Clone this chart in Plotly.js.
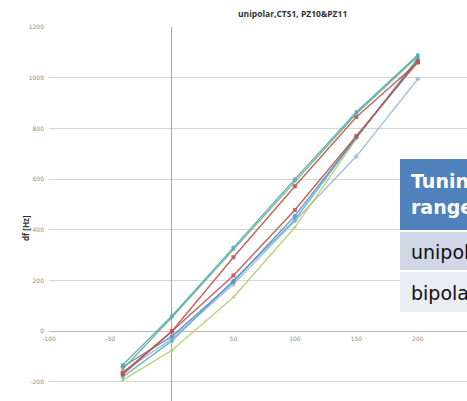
<!DOCTYPE html>
<html>
<head>
<meta charset="utf-8">
<script src="https://cdn.plot.ly/plotly-3.0.1.min.js"></script>
<style>html,body{margin:0;padding:0;background:#fff;}#chart{width:467px;height:401px;}</style>
</head>
<body>
<div id="chart"></div>
<script>
// Data
const xValues = [-40, 0, 50, 100, 150, 200];
const seriesA = [-133, 60, 330, 600, 865, 1090];
const seriesB = [-150, 55, 322, 592, 858, 1085];
const seriesC = [-165, 0, 292, 572, 845, 1060];
const seriesD = [-170, 0, 220, 478, 770, 1062];
const seriesE = [-140, -20, 195, 455, 765, 1070];
const seriesF = [-160, -30, 185, 435, 690, 995];
const seriesG = [-193, -75, 134, 410, 760, 1078];
const seriesH = [-180, -38, 200, 440, 765, 1075];
const xTickVals = [-100, -50, 50, 100, 150, 200];
const yTickVals = [-200, 0, 200, 400, 600, 800, 1000, 1200];
const tableRows = ["unipolar", "bipolar"];
const tableHeader = ["Tuning", "range"];

const seriesList = [
  {y: seriesF, color: '#9DB9DC', sym: 'diamond'},
  {y: seriesG, color: '#B8CB6A', sym: 'triangle-up'},
  {y: seriesH, color: '#5BB3C9', sym: 'circle'},
  {y: seriesE, color: '#5B8CC4', sym: 'diamond'},
  {y: seriesD, color: '#C0504D', sym: 'square'},
  {y: seriesC, color: '#C0504D', sym: 'square'},
  {y: seriesB, color: '#76AE7A', sym: 'triangle-up'},
  {y: seriesA, color: '#4BACC6', sym: 'circle'}
];

const traces = seriesList.map(s => ({
  x: xValues, y: s.y, type: 'scatter', mode: 'lines+markers',
  line: {color: s.color, width: 1.4},
  marker: {color: s.color, size: 4, symbol: s.sym},
  opacity: 0.9,
  showlegend: false, hoverinfo: 'skip'
}));

// pixel helpers for overlay placement
const L = 49, R = 467, T = 27, B = 401;
const px = v => (v - L) / (R - L);
const py = v => 1 - (v - T) / (B - T);

const shapes = [
  {type:'rect', xref:'paper', yref:'paper', x0:px(400), x1:px(480), y0:py(230), y1:py(159), fillcolor:'#4F81BD', line:{width:0}},
  {type:'rect', xref:'paper', yref:'paper', x0:px(400), x1:px(480), y0:py(270), y1:py(232), fillcolor:'#D0D8E8', line:{width:0}},
  {type:'rect', xref:'paper', yref:'paper', x0:px(400), x1:px(480), y0:py(312), y1:py(272), fillcolor:'#E9EDF4', line:{width:0}}
];

const tf = {family:'"DejaVu Sans", sans-serif', size:19};
const annotations = [
  {xref:'paper', yref:'paper', x:px(409), y:py(181), xanchor:'left', yanchor:'middle', showarrow:false, text:'<b>'+tableHeader[0]+'</b>', font:Object.assign({}, tf, {color:'#ffffff'})},
  {xref:'paper', yref:'paper', x:px(409), y:py(207), xanchor:'left', yanchor:'middle', showarrow:false, text:'<b>'+tableHeader[1]+'</b>', font:Object.assign({}, tf, {color:'#ffffff'})},
  {xref:'paper', yref:'paper', x:px(409), y:py(252), xanchor:'left', yanchor:'middle', showarrow:false, text:tableRows[0], font:Object.assign({}, tf, {color:'#111111'})},
  {xref:'paper', yref:'paper', x:px(409), y:py(293), xanchor:'left', yanchor:'middle', showarrow:false, text:tableRows[1], font:Object.assign({}, tf, {color:'#111111'})},
  {xref:'paper', yref:'paper', x:px(292), y:py(13), xanchor:'center', yanchor:'middle', showarrow:false, text:'<b>unipolar,CTS1, PZ10&amp;PZ11</b>', font:{family:'"Open Sans", sans-serif', size:8.5, color:'#333333'}},
  {xref:'paper', yref:'paper', x:px(25), y:py(228), xanchor:'center', yanchor:'middle', showarrow:false, textangle:-90, text:'<b>df [Hz]</b>', font:{family:'"Open Sans", sans-serif', size:8, color:'#333333'}}
];

const yMin = -275, yMax = 1200;
const layout = {
  width: 467, height: 401,
  margin: {l: L, r: 0, t: T, b: 0, pad: 0},
  paper_bgcolor: '#ffffff', plot_bgcolor: '#ffffff',
  xaxis: {
    range: [-100, 240], tickvals: xTickVals, ticktext: xTickVals.map(String),
    showgrid: false, zeroline: true, zerolinecolor: '#a6a6a6', zerolinewidth: 1,
    anchor: 'free', position: (0 - yMin) / (yMax - yMin),
    showline: false, ticks: '', ticklen: 0, ticklabelstandoff: 3,
    tickfont: {family: '"DejaVu Sans", sans-serif', size: 6, color: '#8c8c8c'},
    fixedrange: true
  },
  yaxis: {
    range: [yMin, yMax], tickvals: yTickVals, ticktext: yTickVals.map(String),
    showgrid: true, gridcolor: '#d6d6d6', gridwidth: 1,
    zeroline: true, zerolinecolor: '#bdbdbd', zerolinewidth: 1,
    showline: false, ticks: '', ticklabelstandoff: 4,
    tickfont: {family: '"DejaVu Sans", sans-serif', size: 6, color: '#8c8c8c'},
    fixedrange: true
  },
  shapes: shapes,
  annotations: annotations,
  showlegend: false
};

Plotly.newPlot('chart', traces, layout, {staticPlot: true, displayModeBar: false});
</script>
</body>
</html>
